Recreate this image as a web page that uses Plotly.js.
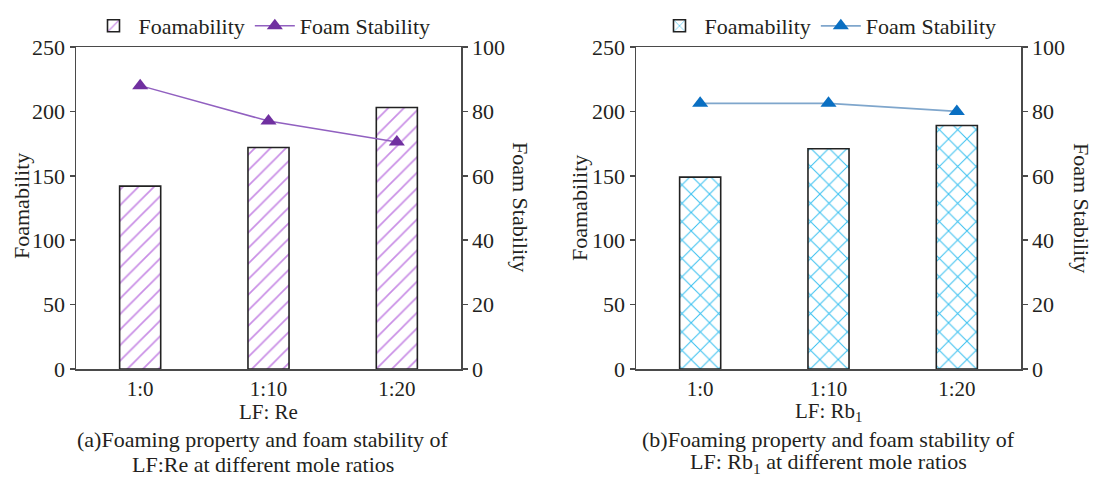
<!DOCTYPE html>
<html>
<head>
<meta charset="utf-8">
<script src="https://cdn.plot.ly/plotly-3.0.1.min.js"></script>
<style>html,body{margin:0;padding:0;background:#fff;}#chart{width:1099px;height:477px;}</style>
</head>
<body>
<div id="chart"></div>
<script>
const categories = ['1:0', '1:10', '1:20'];
const foamabilityRe = [142, 172, 203];
const stabilityRe = [88, 77, 70.5];
const foamabilityRb = [149, 171, 189];
const stabilityRb = [82.5, 82.5, 80];
const leftTicks = [0, 50, 100, 150, 200, 250];
const rightTicks = [0, 20, 40, 60, 80, 100];

const F = "'Liberation Serif', 'Times New Roman', serif";
const FS = 22;
const TXT = '#231f20';
const AX = '#4a4a4a';
const tf = (s) => ({family: F, size: s || FS, color: TXT});

const traces = [
  {type: 'bar', x: categories, y: foamabilityRe, name: 'Foamability', xaxis: 'x', yaxis: 'y', legend: 'legend',
   width: 0.32,
   marker: {color: '#ffffff', line: {color: '#222', width: 1.6},
            pattern: {shape: '/', fgcolor: '#c98ee6', bgcolor: '#ffffff', size: 11, solidity: 0.15}}},
  {type: 'scatter', mode: 'lines+markers', x: categories, y: stabilityRe, name: 'Foam Stability', xaxis: 'x', yaxis: 'y2', legend: 'legend',
   line: {color: '#9160c0', width: 1.5},
   marker: {symbol: 'triangle-up', size: 14, color: '#7030a0'}},
  {type: 'bar', x: categories, y: foamabilityRb, name: 'Foamability', xaxis: 'x2', yaxis: 'y3', legend: 'legend2',
   width: 0.32,
   marker: {color: '#ffffff', line: {color: '#222', width: 1.6},
            pattern: {shape: 'x', fgcolor: '#38c0f0', bgcolor: '#ffffff', size: 13, solidity: 0.15}}},
  {type: 'scatter', mode: 'lines+markers', x: categories, y: stabilityRb, name: 'Foam Stability', xaxis: 'x2', yaxis: 'y4', legend: 'legend2',
   line: {color: '#7fa6cc', width: 1.8},
   marker: {symbol: 'triangle-up', size: 14, color: '#0a6fc2'}}
];

const W = 1099, H = 477;
const px = v => v / W, py = v => 1 - v / H;
const yDom = [py(369), py(47)];

function xAx(domain, anchor) {
  return {domain: domain, anchor: anchor, range: [-0.5, 2.5], type: 'category',
    showline: true, linecolor: AX, linewidth: 1.5, mirror: true, ticks: '', showgrid: false, zeroline: false,
    tickfont: tf(21)};
}
function yLeft(anchor, domain) {
  return {domain: domain, anchor: anchor, range: [0, 250], tickvals: leftTicks, showgrid: false, zeroline: false,
    showline: true, linecolor: AX, linewidth: 1.5, ticks: 'outside', ticklen: 5, tickcolor: AX, tickwidth: 1.5,
    tickfont: tf()};
}
function yRight(over, anchor) {
  return {overlaying: over, anchor: anchor, side: 'right', range: [0, 100], tickvals: rightTicks, showgrid: false, zeroline: false,
    showline: true, linecolor: AX, linewidth: 1.5, ticks: 'outside', ticklen: 5, tickcolor: AX, tickwidth: 1.5,
    tickfont: tf()};
}

function legendAt(x) {
  return {orientation: 'h', yanchor: 'middle', xanchor: 'center', y: py(26), x: x,
    font: tf(), bgcolor: 'rgba(0,0,0,0)', itemwidth: 40, tracegroupgap: 0};
}

function label(x, y, text, angle, size) {
  return {xref: 'paper', yref: 'paper', x: px(x), y: py(y), text: text, textangle: angle || 0, showarrow: false,
    xanchor: 'center', yanchor: 'middle', font: tf(size), borderpad: 0};
}

const layout = {
  width: W, height: H, margin: {l: 0, r: 0, t: 0, b: 0},
  paper_bgcolor: '#ffffff', plot_bgcolor: '#ffffff', showlegend: true, barmode: 'group',
  font: tf(),
  xaxis: xAx([px(76), px(461)], 'y'),
  yaxis: yLeft('x', yDom),
  yaxis2: yRight('y', 'x'),
  xaxis2: xAx([px(636), px(1021)], 'y3'),
  yaxis3: yLeft('x2', yDom),
  yaxis4: yRight('y3', 'x2'),
  legend: legendAt(px(262)),
  legend2: legendAt(px(828)),
  annotations: [
    label(21, 206, 'Foamability', -90),
    label(579, 208, 'Foamability', -90),
    label(521, 207, 'Foam Stability', 90),
    label(1082, 208, 'Foam Stability', 90),
    label(268, 412, 'LF: Re', 0, 21),
    label(828, 412, 'LF: Rb<sub>1</sub>', 0, 21),
    label(263, 439, '(a)Foaming property and foam stability of'),
    label(263, 464, 'LF:Re at different mole ratios'),
    label(828, 439, '(b)Foaming property and foam stability of'),
    label(828, 463, 'LF: Rb<sub>1</sub> at different mole ratios')
  ]
};

Plotly.newPlot('chart', traces, layout, {displayModeBar: false, staticPlot: true});
</script>
</body>
</html>
